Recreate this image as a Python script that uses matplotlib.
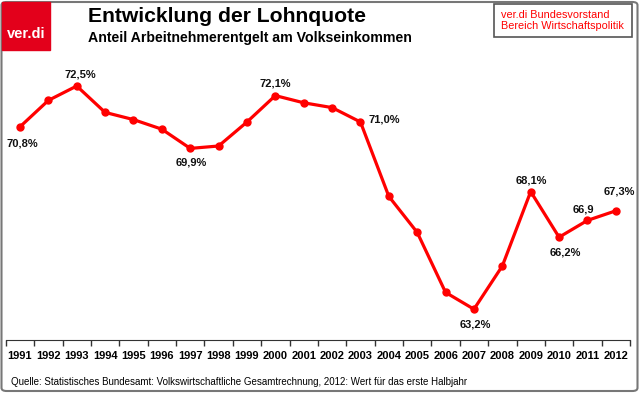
import matplotlib.pyplot as plt
from matplotlib.patches import Rectangle, FancyBboxPatch

plt.rcParams['font.family'] = ['Liberation Sans', 'DejaVu Sans']

years = [str(y) for y in range(1991, 2013)]
lohnquote = [70.8, 71.9, 72.5, 71.4, 71.1, 70.7, 69.9, 70.0, 71.0, 72.1, 71.8,
             71.6, 71.0, 67.9, 66.4, 63.9, 63.2, 65.0, 68.1, 66.2, 66.9, 67.3]

# labelled points: (index, text, x offset px, y offset px, ha)
labels = [(0, '70,8%', 2, -17, 'center'),
          (2, '72,5%', 4, 11, 'center'),
          (6, '69,9%', 1, -14, 'center'),
          (9, '72,1%', 0, 12, 'center'),
          (12, '71,0%', 8, 2, 'left'),
          (16, '63,2%', 1, -15, 'center'),
          (18, '68,1%', 1, 11, 'center'),
          (19, '66,2%', 6, -15, 'center'),
          (20, '66,9', -4, 11, 'center'),
          (21, '67,3%', 3, 19, 'center')]

red = '#ff0000'

fig = plt.figure(figsize=(6.4, 3.93), dpi=100)
ax = fig.add_axes([5.8 / 640, 1 - 340 / 393, (630 - 5.8) / 640, 280 / 393])

x = list(range(len(years)))
ax.plot(x, lohnquote, color=red, lw=2.3, marker='o', ms=5, zorder=3)
for i, txt, dx, dy, ha in labels:
    ax.annotate(txt, (i, lohnquote[i]), xytext=(dx, dy), textcoords='offset pixels',
                ha=ha, va='center', fontsize=8, fontweight='bold', color='#111111')

ax.set_xlim(-0.5, len(years) - 0.5)
ax.set_ylim(72.5 - (340 - 86) / 24, 72.5 + (86 - 60) / 24)
ax.set_xticks(x)
ax.set_xticklabels(years, fontsize=8, fontweight='bold')
ax.set_xticks([i - 0.5 for i in range(len(years) + 1)], minor=True)
ax.tick_params(axis='x', which='major', length=0, pad=8)
ax.tick_params(axis='x', which='minor', length=4, width=1, color='#333333')
ax.set_yticks([])
for s in ['top', 'left', 'right']:
    ax.spines[s].set_visible(False)
ax.spines['bottom'].set_color('#333333')
ax.patch.set_alpha(0)

# outer frame
fig.patches.append(FancyBboxPatch((1.5 / 640, 2 / 393), 636 / 640, 389 / 393,
                                  boxstyle='round,pad=0,rounding_size=0.008',
                                  transform=fig.transFigure, fill=False,
                                  ec='#777777', lw=1.5))

# logo
fig.patches.append(Rectangle((2 / 640, 1 - 50 / 393), 48 / 640, 48 / 393,
                             transform=fig.transFigure, color='#e3001b', zorder=5))
fig.text(26 / 640, 1 - 34 / 393, 'ver.di', color='white', fontsize=10.5,
         fontweight='bold', ha='center', va='center', zorder=6)

fig.text(88 / 640, 1 - 17 / 393, 'Entwicklung der Lohnquote', fontsize=15.2,
         fontweight='bold', va='center')
fig.text(88 / 640, 1 - 38 / 393, 'Anteil Arbeitnehmerentgelt am Volkseinkommen',
         fontsize=10.2, fontweight='bold', va='center')

fig.patches.append(Rectangle((494 / 640, 1 - 37 / 393), 138 / 640, 33 / 393,
                             transform=fig.transFigure, fill=False, ec='#555555', lw=1.2))
fig.text(501 / 640, 1 - 14.5 / 393, 'ver.di Bundesvorstand', color=red, fontsize=7.8,
         va='center')
fig.text(501 / 640, 1 - 26 / 393, 'Bereich Wirtschaftspolitik', color=red, fontsize=7.8,
         va='center')

fig.text(11 / 640, 1 - 382 / 393,
         'Quelle: Statistisches Bundesamt: Volkswirtschaftliche Gesamtrechnung, 2012: Wert für das erste Halbjahr',
         fontsize=7, va='center')

fig.savefig('out.png', dpi=100)
